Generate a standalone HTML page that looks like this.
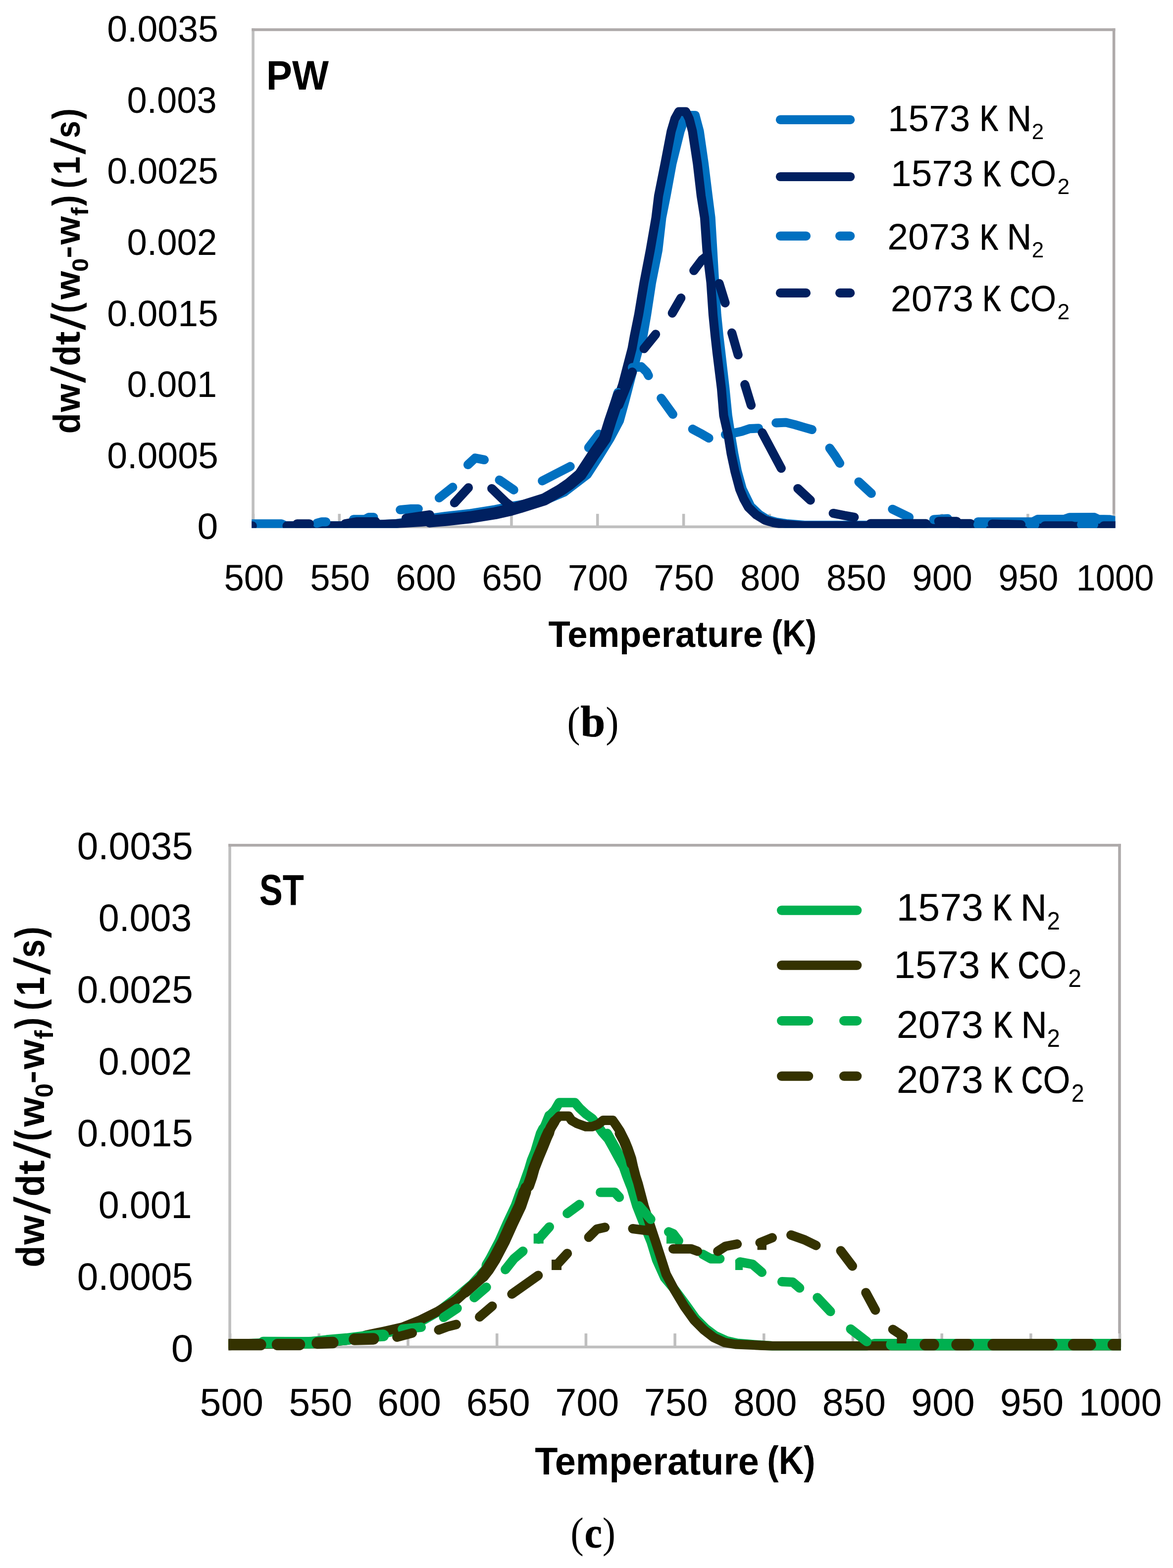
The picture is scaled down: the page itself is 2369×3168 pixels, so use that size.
<!DOCTYPE html>
<html lang="en">
<head>
<meta charset="utf-8">
<title>DTG curves: PW (b) and ST (c)</title>
<style>
html,body{margin:0;padding:0;background:#fff}
body{width:2369px;height:3168px;overflow:hidden}
svg{display:block}
text{white-space:pre}
</style>
</head>
<body>
<svg width="2369" height="3168" viewBox="0 0 2369 3168">
<g>
<rect x="508.7" y="1038.2" width="5.6" height="26.2" fill="#BFBFBF"/>
<rect x="682.52" y="1038.2" width="5.6" height="26.2" fill="#BFBFBF"/>
<rect x="856.34" y="1038.2" width="5.6" height="26.2" fill="#BFBFBF"/>
<rect x="1030.16" y="1038.2" width="5.6" height="26.2" fill="#BFBFBF"/>
<rect x="1203.98" y="1038.2" width="5.6" height="26.2" fill="#BFBFBF"/>
<rect x="1377.8" y="1038.2" width="5.6" height="26.2" fill="#BFBFBF"/>
<rect x="1551.62" y="1038.2" width="5.6" height="26.2" fill="#BFBFBF"/>
<rect x="1725.44" y="1038.2" width="5.6" height="26.2" fill="#BFBFBF"/>
<rect x="1899.26" y="1038.2" width="5.6" height="26.2" fill="#BFBFBF"/>
<rect x="2073.08" y="1038.2" width="5.6" height="26.2" fill="#BFBFBF"/>
<rect x="2246.9" y="1038.2" width="5.6" height="26.2" fill="#BFBFBF"/>
<rect x="508.3" y="57.2" width="5.6" height="1009.6" fill="#BFBFBF"/>
<rect x="508.3" y="1061.6" width="1744.1" height="5.6" fill="#BFBFBF"/>
<rect x="2246.8" y="57.2" width="5.6" height="981" fill="#AEAAAA"/>
<rect x="508.3" y="57.2" width="1744.1" height="5.6" fill="#AEAAAA"/>
</g>
<clipPath id="cp1"><rect x="508.3" y="57.2" width="1744.1" height="1009.6"/></clipPath>
<g clip-path="url(#cp1)" fill="none" stroke-linecap="round" stroke-linejoin="round">
<path d="M505 1058.3 L568 1058.3 L577 1062.4 L700 1062.4 L800 1058 L850 1050 L900 1043 L950 1037.5 L1000 1029.5 L1032 1023 L1060 1018.5 L1100 1011 L1140 994 L1186 958.8 L1209.5 922.6 L1232 886 L1251 850 L1262 810 L1275 760 L1290 704 L1298.5 679.4 L1306 635.9 L1316 570.6 L1329 505.3 L1336.5 440 L1345.3 395.9 L1357.3 330.6 L1373.5 265.3 L1381 244 L1389 233.2 L1404 233.2 L1408.5 250 L1412.5 265 L1422 331 L1430 396 L1435.6 440 L1439.5 505 L1443.2 570 L1447.6 636 L1452 679 L1456 712.6 L1464.3 785 L1469.7 839.5 L1476 880 L1482 916 L1489 952 L1499 988 L1516 1023 L1534 1040 L1550 1050 L1568 1055 L1588 1058 L1625 1061 L2260 1061" stroke="#0070C0" stroke-width="18.2"/>
<path d="M1465 878 L1481.3 875.2 L1497.7 871.6 L1514 866.2 L1532 865.3" stroke="#0070C0" stroke-width="18.2"/>
<path d="M579.5 1062.4 L640 1062.4 L700 1062 L760 1060 L800 1058 L850 1055 L900 1050.5 L950 1045 L1000 1037 L1032 1029.7 L1050 1024.5 L1100 1008.7 L1131.6 990.5 L1149.8 978 L1172.4 958.8 L1196 922.6 L1221.4 886.3 L1232.7 850 L1239 831.4 L1257.5 777 L1276.5 704.4 L1281 679.4 L1289.8 635.9 L1300.7 570.6 L1313.3 505.3 L1324.6 440 L1330 395.9 L1343 330.6 L1355.5 265.3 L1363 240 L1371 225.5 L1385 225.5 L1392 240 L1398.5 265.3 L1408.4 330.6 L1416 395.9 L1423 440 L1427.6 505.3 L1435.6 570.6 L1440 635.9 L1444.3 679.4 L1448 712.6 L1457 785.1 L1461.5 839.5 L1470.7 880 L1476.5 916.3 L1484.3 952.6 L1494 988.8 L1502 1008 L1511.5 1025 L1527 1040 L1545 1051 L1562 1056 L1581.4 1059.2 L1620 1062.4 L2260 1062.4" stroke="#002060" stroke-width="18.2"/>
<path d="M640 1057 L650 1054.3 L658.2 1054.3 M714 1049.3 L737 1049.3 L745 1045.2 L754.5 1045.2 M808.3 1030 L830 1028.1 L844.8 1028.1 M887 1006 L914.3 984.3 M945 939 L959.6 925.4 L978 929 M1008.6 969.8 L1037.6 989.8 M1095.3 971.5 L1151.6 942.5 M1188.8 904.4 L1209.6 877.2 M1237 829.6 L1248 793 M1277 742.5 L1295 740.7 L1306 751.6 L1309.6 758.8 M1335.3 804.5 L1358.9 837.1 M1398.8 867 L1414.2 875.2 L1431.5 885.2 M1567.3 854.4 L1587.2 853.5 L1605.3 858 L1623.5 863.4 L1639.8 868 M1675.7 905.4 L1687 921.5 L1696 936 M1734.4 973.5 L1759.8 997 M1802.4 1028.8 L1836 1045 M1885.8 1049.6 L1914 1047.8 M1975 1054.3 L2086 1054.3 L2096 1049 L2150 1048.8 L2160 1045.3 L2210 1045.2 L2218 1049 L2240 1049.5 L2260 1054" stroke="#0070C0" stroke-width="18.2"/>
<path d="M868 1053.38 L900 1050.5 L950 1045 L1000 1037 L1032 1029.7 L1050 1024.5 L1100 1008.7 L1131.6 990.5 L1149.8 978 L1172.4 958.8 L1196 922.6 L1221.4 886.3 L1232.7 850 L1239 831.4 L1250 799.05" stroke="#002060" stroke-width="24.5"/>
<path d="M505 1062.4 L509.7 1062.4 M600 1058.3 L624.8 1058.3 M697 1058.3 L720 1054.2 L759 1054.2 M820 1047 L868 1040 M917.9 1016 L946 985.3 M993.2 987 L1021.3 1014.3 L1035 1025 M1249.8 818.7 L1277 751.6 M1300.6 704.4 L1324.1 675.4 M1357.8 632.6 L1375.2 602.2 M1401.3 546.7 L1417.7 524.9 L1428 517 M1452.5 572.8 L1464.5 612 M1478 672.6 L1490.7 717 M1504.3 777 L1517 818.7 M1539.4 874.3 L1577.8 946.2 M1611.3 987 L1636.7 1010.6 M1682.7 1037 L1705.3 1041.5 L1725.3 1045 M1758 1057.8 L1870 1057.8 M1895.8 1053.3 L1932 1053.3 M1940 1057.8 L1960 1057.8 M2004 1058.5 L2062 1060 M2110 1062.4 L2165 1062.4 M2229 1062.4 L2260 1062.4" stroke="#002060" stroke-width="18.2"/>
<path d="M1975 1060 L1985 1060 M2081 1060 L2090 1060 M2184 1060 L2209 1060" stroke="#0070C0" stroke-width="18.2"/>
</g>
<g fill="none" stroke-linecap="round" stroke-width="18.2">
<path d="M1575.9 241.9H1717.2" stroke="#0070C0"/>
<path d="M1575.9 357H1717.2" stroke="#002060"/>
<path d="M1575.9 476.8H1628 M1696.1 476.8H1717.2" stroke="#0070C0"/>
<path d="M1575.9 591.9H1628 M1696.1 591.9H1717.2" stroke="#002060"/>
</g>
<g font-family='"Liberation Sans", sans-serif' font-size="100" fill="#000">
<text transform="matrix(0.7345 0 0 0.7477 216.26 84.1)">0.0035</text>
<text transform="matrix(0.724 0 0 0.7477 256.6 227.7)">0.003</text>
<text transform="matrix(0.7345 0 0 0.7477 216.26 371.3)">0.0025</text>
<text transform="matrix(0.7262 0 0 0.7477 256.6 514.9)">0.002</text>
<text transform="matrix(0.7345 0 0 0.7477 216.26 658.5)">0.0015</text>
<text transform="matrix(0.7255 0 0 0.7477 256.6 802.1)">0.001</text>
<text transform="matrix(0.7345 0 0 0.7477 216.26 945.7)">0.0005</text>
<text transform="matrix(0.7518 0 0 0.7477 398.59 1089.3)">0</text>
<text transform="matrix(0.7245 0 0 0.7491 452.5 1192.85)">500</text>
<text transform="matrix(0.7245 0 0 0.7491 626.3 1192.85)">550</text>
<text transform="matrix(0.7291 0 0 0.7491 799.35 1192.85)">600</text>
<text transform="matrix(0.7291 0 0 0.7491 973.15 1192.85)">650</text>
<text transform="matrix(0.7303 0 0 0.7491 1146.77 1192.85)">700</text>
<text transform="matrix(0.7303 0 0 0.7491 1320.57 1192.85)">750</text>
<text transform="matrix(0.7257 0 0 0.7491 1495.12 1192.85)">800</text>
<text transform="matrix(0.7257 0 0 0.7491 1668.92 1192.85)">850</text>
<text transform="matrix(0.728 0 0 0.7491 1842.34 1192.85)">900</text>
<text transform="matrix(0.728 0 0 0.7491 2016.14 1192.85)">950</text>
<text transform="matrix(0.7071 0 0 0.7491 2173.4 1192.85)">1000</text>
<text transform="matrix(0.7838 0 0 0.8276 537.71 180.8)" font-weight="bold">PW</text>
<g><text transform="matrix(0.7247 0 0 0.7491 1107.48 1307)" font-weight="bold">Temperature</text> <text transform="matrix(0.6548 0 0 0.755 1558.13 1305.53)" font-weight="bold">(K)</text></g>
<g><text transform="matrix(0 -0.6851 0.7605 -0 161.24 876.34)" font-weight="bold">d</text><text transform="matrix(0 -0.7361 0.7204 -0 161 832.62)" font-weight="bold">w</text><text transform="matrix(0 -0.7646 0.9557 0.1908 171.09 774.08)" font-weight="bold">/</text><text transform="matrix(0 -0.6851 0.7605 -0 161.24 739.54)" font-weight="bold">d</text><text transform="matrix(0 -0.8228 0.7245 -0 161.08 697.03)" font-weight="bold">t</text><text transform="matrix(0 -0.7646 0.9557 0.1894 171.09 667.19)" font-weight="bold">/</text><text transform="matrix(0 -0.6493 0.755 -0 159.33 632.69)" font-weight="bold">(</text><text transform="matrix(0 -0.7361 0.7204 -0 161 605.12)" font-weight="bold">w</text><text transform="matrix(0 -0.4926 0.4678 -0 177.93 548.97)" font-weight="bold">0</text><text transform="matrix(0 -0.7604 0.6333 -0 157.17 522.04)" font-weight="bold">-</text><text transform="matrix(0 -0.7374 0.7204 -0 161 494.22)" font-weight="bold">w</text><text transform="matrix(0 -0.5102 0.4828 -0 178 436.09)" font-weight="bold">f</text><text transform="matrix(0 -0.6493 0.755 -0 159.33 416)" font-weight="bold">)</text> <text transform="matrix(0 -0.6493 0.755 -0 159.33 380.69)" font-weight="bold">(</text><text transform="matrix(0 -0.6624 0.7535 -0 161 352.94)" font-weight="bold">1</text><text transform="matrix(0 -0.7646 0.9557 0.1894 171.09 312.29)" font-weight="bold">/</text><text transform="matrix(0 -0.6283 0.7306 -0 161.07 278.93)" font-weight="bold">s</text><text transform="matrix(0 -0.6493 0.755 -0 159.33 240.75)" font-weight="bold">)</text></g>
<g><text transform="matrix(0.7477 0 0 0.7456 1792.99 265)">1573</text> <text transform="matrix(0.552 0 0 0.7215 1979.15 264.3)" stroke="#000" stroke-width="2.22" stroke-linejoin="round">K</text> <text transform="matrix(0.6816 0 0 0.7345 2033.63 264.75)" stroke="#000" stroke-width="0.71" stroke-linejoin="round">N</text><text transform="matrix(0.4396 0 0 0.4444 2083.8 280.5)">2</text></g>
<g><text transform="matrix(0.7487 0 0 0.7456 1799.08 376.2)">1573</text> <text transform="matrix(0.552 0 0 0.7215 1984.65 375.5)" stroke="#000" stroke-width="2.22" stroke-linejoin="round">K</text> <text transform="matrix(0.5739 0 0 0.7314 2039.13 375.72)" stroke="#000" stroke-width="1.54" stroke-linejoin="round">C</text><text transform="matrix(0.674 0 0 0.7456 2080.8 376.2)">O</text><text transform="matrix(0.444 0 0 0.4444 2135.58 391.7)">2</text></g>
<g><text transform="matrix(0.7526 0 0 0.7456 1792.24 504.3)">2073</text> <text transform="matrix(0.552 0 0 0.7215 1979.15 503.6)" stroke="#000" stroke-width="2.22" stroke-linejoin="round">K</text> <text transform="matrix(0.6816 0 0 0.7345 2033.63 504.05)" stroke="#000" stroke-width="0.71" stroke-linejoin="round">N</text><text transform="matrix(0.4396 0 0 0.4444 2083.8 519.8)">2</text></g>
<g><text transform="matrix(0.7516 0 0 0.7456 1798.84 629)">2073</text> <text transform="matrix(0.552 0 0 0.7215 1984.65 628.3)" stroke="#000" stroke-width="2.22" stroke-linejoin="round">K</text> <text transform="matrix(0.5739 0 0 0.7314 2039.13 628.52)" stroke="#000" stroke-width="1.54" stroke-linejoin="round">C</text><text transform="matrix(0.674 0 0 0.7456 2080.8 629)">O</text><text transform="matrix(0.444 0 0 0.4444 2135.58 644.5)">2</text></g>
<g><text transform="matrix(0.7804 0 0 0.8639 1145.39 1487.64)" font-family='"Liberation Serif", serif'>(</text><text transform="matrix(0.8955 0 0 0.8865 1172.48 1488.11)" font-weight="bold" font-family='"Liberation Serif", serif' stroke="#000" stroke-width="0.9" stroke-linejoin="round">b</text><text transform="matrix(0.7883 0 0 0.8639 1223.24 1487.64)" font-family='"Liberation Serif", serif'>)</text></g>
</g>
<g>
<rect x="461.8" y="2694.1" width="5.6" height="27.4" fill="#BFBFBF"/>
<rect x="641.5" y="2694.1" width="5.6" height="27.4" fill="#BFBFBF"/>
<rect x="821.2" y="2694.1" width="5.6" height="27.4" fill="#BFBFBF"/>
<rect x="1000.9" y="2694.1" width="5.6" height="27.4" fill="#BFBFBF"/>
<rect x="1180.6" y="2694.1" width="5.6" height="27.4" fill="#BFBFBF"/>
<rect x="1360.3" y="2694.1" width="5.6" height="27.4" fill="#BFBFBF"/>
<rect x="1540" y="2694.1" width="5.6" height="27.4" fill="#BFBFBF"/>
<rect x="1719.7" y="2694.1" width="5.6" height="27.4" fill="#BFBFBF"/>
<rect x="1899.4" y="2694.1" width="5.6" height="27.4" fill="#BFBFBF"/>
<rect x="2079.1" y="2694.1" width="5.6" height="27.4" fill="#BFBFBF"/>
<rect x="2258.8" y="2694.1" width="5.6" height="27.4" fill="#BFBFBF"/>
<rect x="461.3" y="1704.9" width="5.6" height="1023.7" fill="#BFBFBF"/>
<rect x="461.3" y="2718.7" width="1802.5" height="5.6" fill="#BFBFBF"/>
<rect x="2258.2" y="1704.9" width="5.6" height="989.2" fill="#AEAAAA"/>
<rect x="461.3" y="1704.9" width="1802.5" height="5.6" fill="#AEAAAA"/>
</g>
<clipPath id="cp2"><rect x="461.3" y="1704.9" width="1802.5" height="1023.7"/></clipPath>
<g clip-path="url(#cp2)" fill="none" stroke-linecap="round" stroke-linejoin="round">
<path d="M455 2716 L700 2708 L800 2689 L850 2670 L885 2650 L915 2627 L953 2595 L980 2565 L992 2545 L1011 2508.8 L1027 2472.6 L1044 2436.3 L1057.2 2399.5 L1063.5 2381.4 L1069.9 2363.2 L1075.3 2345.1 L1082.6 2327 L1088 2308.8 L1093.5 2290.7 L1102.5 2272.6 L1109.8 2254.4 L1120.7 2242.6 L1129.5 2227.7 L1161 2227.7 L1170.6 2239 L1183.3 2250.8 L1196 2259.9 L1208.6 2276.2 L1215.9 2287 L1228.6 2301.6 L1237.7 2317.9 L1248.6 2338 L1259.4 2357.8 L1265 2374 L1272 2392 L1275.2 2400 L1286 2436.3 L1300 2472 L1315 2508.8 L1326 2545 L1342.3 2581.4 L1362 2605 L1385 2636 L1405 2664 L1425 2684 L1445 2699 L1467 2709 L1489 2714 L1525 2717 L1560 2719.4 L1750 2719.4 L1766 2714.6 L2270 2714.6" stroke="#00B050" stroke-width="19"/>
<path d="M985 2556.67 L992 2545 L1011 2508.8 L1027 2472.6 L1044 2436.3 L1054 2408.42" stroke="#00B050" stroke-width="25"/>
<path d="M1054 2408.42 L1057.2 2399.5 L1063.5 2381.4 L1069.9 2363.2 L1075.3 2345.1 L1082.6 2327 L1088 2308.8 L1093.5 2290.7 L1098 2281.65" stroke="#00B050" stroke-width="23"/>
<path d="M1098 2281.65 L1102.5 2272.6 L1109.8 2254.4 L1110 2254.18" stroke="#00B050" stroke-width="21"/>
<path d="M1226.5 2290 L1233.1 2301.6 L1242.2 2317.9 L1253.1 2338 L1260.5 2352" stroke="#00B050" stroke-width="19"/>
<path d="M455 2716 L640 2715 L712 2706 L740 2697.4 L775 2690 L812.6 2681.5 L848.8 2667 L885.1 2648.9 L921.4 2627.1 L957.7 2594.5 L972.5 2581.4 L984.9 2565.4 L997.9 2545.1 L1017 2508.8 L1033.3 2472.6 L1050.5 2436.3 L1062.8 2400 L1067.2 2395.9 L1073.5 2377.8 L1078 2361.4 L1087.1 2337.9 L1096.2 2316.1 L1103.4 2298 L1112.5 2278 L1121 2264 L1129.5 2255 L1148.5 2255 L1154.2 2263.5 L1165.1 2269.8 L1183 2276.2 L1196.4 2276.2 L1208 2271.6 L1218 2263.6 L1237.5 2263.6 L1244 2273 L1252.2 2285.3 L1262.2 2305.2 L1268.5 2320.6 L1275.4 2340.6 L1279.4 2358.7 L1283.9 2376 L1288.5 2390.5 L1291 2400 L1300.6 2436.3 L1312 2472 L1324.2 2508.8 L1336 2545.1 L1345.4 2574.5 L1362.7 2607.2 L1381.7 2638.9 L1401.7 2667 L1421.6 2687 L1441.6 2702.4 L1463.3 2712.4 L1485 2716 L1521.4 2717.5 L1560 2719.4 L2270 2719.4" stroke="#343200" stroke-width="19"/>
<path d="M940 2610.4 L957.7 2594.5 L972.5 2581.4 L980 2571.72" stroke="#343200" stroke-width="22"/>
<path d="M975 2578.17 L984.9 2565.4 L997.9 2545.1 L1017 2508.8 L1033.3 2472.6 L1050.5 2436.3 L1060 2408.26" stroke="#343200" stroke-width="25"/>
<path d="M1060 2408.26 L1062.8 2400 L1067.2 2395.9 L1073.5 2377.8 L1078 2361.4 L1087.1 2337.9 L1096.2 2316.1 L1103.4 2298 L1108 2287.89" stroke="#343200" stroke-width="23"/>
<path d="M1108 2287.89 L1112.5 2278 L1120 2265.65" stroke="#343200" stroke-width="21"/>
<path d="M1251 2290 L1259.2 2305.2 L1265.5 2320.6 L1272.4 2340.6 L1275 2352" stroke="#343200" stroke-width="19"/>
<path d="M532 2712.4 L625 2713 L660 2709 L700 2705.5 L740 2700.5 L774 2698 M1801 2716.7 L2275 2716.7" stroke="#00B050" stroke-width="23.4"/>
<path d="M812.6 2685.2 L850.6 2681.5 M896 2661.6 L923.2 2643.4 M957.7 2621.7 L982.2 2600.8 M1020.6 2565 L1037.8 2543.3 L1056 2527.9 M1087.7 2503.4 L1109.5 2478.9 M1145.7 2451.7 L1170.2 2433.6 M1212.6 2409 L1241.6 2409 L1250.7 2419 M1290.6 2436.3 L1314.2 2463.5 M1350.5 2488.9 L1359.5 2492.5 L1370.4 2507 M1419.4 2534.2 L1435.7 2543.3 L1453.9 2543.3 M1494.2 2549.7 L1519.6 2554.3 L1538.6 2570.6 M1579.4 2589.6 L1601.2 2590.6 L1614.8 2602.3 M1650.8 2621.7 L1677.1 2649.8 M1718 2685.2 L1750.6 2710.6" stroke="#00B050" stroke-width="19"/>
<rect x="1077.7" y="2492.5" width="20" height="20" fill="#00B050" stroke="none"/>
<rect x="1346" y="2497" width="20" height="15.6" fill="#00B050" stroke="none"/>
<rect x="1485" y="2545" width="15" height="21" fill="#00B050" stroke="none"/>
<path d="M455 2716.7 L526 2716.7 M560.5 2716.6 L604.5 2716.6 M641 2713.5 L672 2712.5 M716 2706 L754 2705 M1869 2716.7 L1885 2716.7 M1933 2716.7 L1955.5 2716.7 M2006 2716.7 L2124 2716.7 M2168.5 2716.7 L2202 2716.7 M2248.5 2716.7 L2275 2716.7" stroke="#343200" stroke-width="23.4"/>
<path d="M801.7 2701.5 L832.5 2693.3 M886 2687 L903.3 2680.6 L921.4 2676 M968.5 2660.7 L994 2638.9 M1033.8 2614.4 L1086.8 2576.9 M1124 2556 L1145.7 2532.4 M1189 2499.8 L1205.3 2483.4 L1221.7 2479.8 M1277.9 2482.5 L1299.7 2485.3 L1316 2487 M1359.5 2523.3 L1395.8 2523.3 L1408.5 2527.9 M1449.7 2528 L1465.2 2518 L1488.7 2513.5 M1535 2510.7 L1559.5 2500.8 M1597.6 2495.3 L1625 2505 L1648 2516.2 M1698 2527 L1721.5 2558 M1748.8 2611.7 L1767.8 2647 M1803.2 2686 L1824 2699.7" stroke="#343200" stroke-width="19"/>
<rect x="1114" y="2545" width="20" height="21" fill="#343200" stroke="none"/>
<rect x="1529.6" y="2505" width="18.4" height="20.3" fill="#343200" stroke="none"/>
<rect x="1811.4" y="2692" width="19" height="22.2" fill="#343200" stroke="none"/>
</g>
<g fill="none" stroke-linecap="round" stroke-width="19">
<path d="M1578.5 1839.2H1730.8" stroke="#00B050"/>
<path d="M1578.5 1950.3H1730.8" stroke="#343200"/>
<path d="M1578.5 2062.4H1632.8 M1704.5 2062.4H1730.8" stroke="#00B050"/>
<path d="M1578.5 2174.3H1632.8 M1704.5 2174.3H1730.8" stroke="#343200"/>
</g>
<g font-family='"Liberation Sans", sans-serif' font-size="100" fill="#000">
<text transform="matrix(0.7657 0 0 0.7802 155.74 1736.12)">0.0035</text>
<text transform="matrix(0.7529 0 0 0.7802 198.79 1881.17)">0.003</text>
<text transform="matrix(0.7657 0 0 0.7802 155.74 2026.22)">0.0025</text>
<text transform="matrix(0.7552 0 0 0.7802 198.78 2171.27)">0.002</text>
<text transform="matrix(0.7657 0 0 0.7802 155.74 2316.32)">0.0015</text>
<text transform="matrix(0.7545 0 0 0.7802 198.78 2461.37)">0.001</text>
<text transform="matrix(0.7657 0 0 0.7802 155.74 2606.42)">0.0005</text>
<text transform="matrix(0.8042 0 0 0.7802 345.78 2751.47)">0</text>
<text transform="matrix(0.7673 0 0 0.7703 403.83 2859.83)">500</text>
<text transform="matrix(0.7673 0 0 0.7703 583.43 2859.83)">550</text>
<text transform="matrix(0.7722 0 0 0.7703 762.24 2859.83)">600</text>
<text transform="matrix(0.7722 0 0 0.7703 941.84 2859.83)">650</text>
<text transform="matrix(0.7734 0 0 0.7703 1121.24 2859.83)">700</text>
<text transform="matrix(0.7734 0 0 0.7703 1300.84 2859.83)">750</text>
<text transform="matrix(0.7685 0 0 0.7703 1481.23 2859.83)">800</text>
<text transform="matrix(0.7685 0 0 0.7703 1660.83 2859.83)">850</text>
<text transform="matrix(0.7709 0 0 0.7703 1840.04 2859.83)">900</text>
<text transform="matrix(0.7709 0 0 0.7703 2019.64 2859.83)">950</text>
<text transform="matrix(0.7512 0 0 0.7703 2179.07 2859.83)">1000</text>
<text transform="matrix(0.7055 0 0 0.8707 523.68 1828.33)" font-weight="bold">ST</text>
<g><text transform="matrix(0.7569 0 0 0.784 1080.14 2978.9)" font-weight="bold">Temperature</text> <text transform="matrix(0.7006 0 0 0.7936 1549.3 2977.53)" font-weight="bold">(K)</text></g>
<g><text transform="matrix(0 -0.7176 0.8024 -0 89.15 2560.47)" font-weight="bold">d</text><text transform="matrix(0 -0.7709 0.76 -0 88.9 2514.68)" font-weight="bold">w</text><text transform="matrix(0 -0.8066 1.0083 0.1978 99.54 2453.39)" font-weight="bold">/</text><text transform="matrix(0 -0.7176 0.8024 -0 89.15 2417.2)" font-weight="bold">d</text><text transform="matrix(0 -0.8617 0.7644 -0 88.98 2372.68)" font-weight="bold">t</text><text transform="matrix(0 -0.8066 1.0083 0.1964 99.54 2341.43)" font-weight="bold">/</text><text transform="matrix(0 -0.685 0.7965 -0 87.14 2305.39)" font-weight="bold">(</text><text transform="matrix(0 -0.7709 0.76 -0 88.9 2276.42)" font-weight="bold">w</text><text transform="matrix(0 -0.5159 0.4936 -0 106.76 2217.62)" font-weight="bold">0</text><text transform="matrix(0 -0.7964 0.6682 -0 84.86 2189.41)" font-weight="bold">-</text><text transform="matrix(0 -0.7723 0.76 -0 88.9 2160.27)" font-weight="bold">w</text><text transform="matrix(0 -0.5344 0.5093 -0 106.84 2099.4)" font-weight="bold">f</text><text transform="matrix(0 -0.685 0.7965 -0 87.14 2078.43)" font-weight="bold">)</text> <text transform="matrix(0 -0.685 0.7965 -0 87.14 2041.47)" font-weight="bold">(</text><text transform="matrix(0 -0.6937 0.7949 -0 88.9 2012.31)" font-weight="bold">1</text><text transform="matrix(0 -0.8066 1.0083 0.1964 99.54 1969.75)" font-weight="bold">/</text><text transform="matrix(0 -0.6629 0.7708 -0 88.97 1934.93)" font-weight="bold">s</text><text transform="matrix(0 -0.685 0.7965 -0 87.14 1894.89)" font-weight="bold">)</text></g>
<g><text transform="matrix(0.7881 0 0 0.7746 1810.49 1860.13)">1573</text> <text transform="matrix(0.5834 0 0 0.7505 2004.79 1859.4)" stroke="#000" stroke-width="2.12" stroke-linejoin="round">K</text> <text transform="matrix(0.7318 0 0 0.7636 2061.01 1859.85)" stroke="#000" stroke-width="0.67" stroke-linejoin="round">N</text><text transform="matrix(0.4747 0 0 0.4946 2114.43 1877.6)">2</text></g>
<g><text transform="matrix(0.7829 0 0 0.7746 1805.13 1976.23)">1573</text> <text transform="matrix(0.5834 0 0 0.7505 1998.89 1975.5)" stroke="#000" stroke-width="2.12" stroke-linejoin="round">K</text> <text transform="matrix(0.6103 0 0 0.7604 2055.55 1975.74)" stroke="#000" stroke-width="1.47" stroke-linejoin="round">C</text><text transform="matrix(0.7018 0 0 0.7746 2099.77 1976.23)">O</text><text transform="matrix(0.4791 0 0 0.4946 2157.3 1993.7)">2</text></g>
<g><text transform="matrix(0.7869 0 0 0.7746 1810.77 2097.13)">2073</text> <text transform="matrix(0.5834 0 0 0.7505 2005.89 2096.4)" stroke="#000" stroke-width="2.12" stroke-linejoin="round">K</text> <text transform="matrix(0.7283 0 0 0.7636 2062.14 2096.85)" stroke="#000" stroke-width="0.67" stroke-linejoin="round">N</text><text transform="matrix(0.4747 0 0 0.4946 2114.43 2114.6)">2</text></g>
<g><text transform="matrix(0.7869 0 0 0.7746 1810.77 2208.13)">2073</text> <text transform="matrix(0.5834 0 0 0.7505 2005.89 2207.4)" stroke="#000" stroke-width="2.12" stroke-linejoin="round">K</text> <text transform="matrix(0.604 0 0 0.7604 2062.48 2207.64)" stroke="#000" stroke-width="1.48" stroke-linejoin="round">C</text><text transform="matrix(0.7121 0 0 0.7746 2106.22 2208.13)">O</text><text transform="matrix(0.4659 0 0 0.4946 2163.87 2225.6)">2</text></g>
<g><text transform="matrix(0.7961 0 0 0.8595 1152.22 3125.74)" font-family='"Liberation Serif", serif'>(</text><text transform="matrix(0.7896 0 0 0.8708 1180.64 3126.33)" font-weight="bold" font-family='"Liberation Serif", serif' stroke="#000" stroke-width="0.96" stroke-linejoin="round">c</text><text transform="matrix(0.7883 0 0 0.8595 1216.74 3125.74)" font-family='"Liberation Serif", serif'>)</text></g>
</g>
</svg>
</body>
</html>
